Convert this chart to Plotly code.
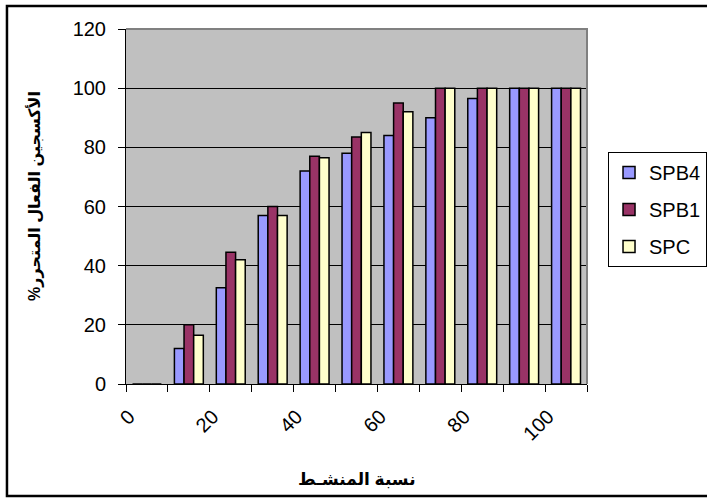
import plotly.graph_objects as go

# Activator ratio (x) and released active oxygen % for each formulation
ratio = [0, 10, 20, 30, 40, 50, 60, 70, 80, 90, 100]
spb4 = [0, 12, 32.5, 57, 72, 78, 84, 90, 96.5, 100, 100]
spb1 = [0, 20, 44.5, 60, 77, 83.5, 95, 100, 100, 100, 100]
spc = [0, 16.5, 42, 57, 76.5, 85, 92, 100, 100, 100, 100]

x_labels = [0, 20, 40, 60, 80, 100]
y_ticks = [0, 20, 40, 60, 80, 100, 120]

series = [
    ("SPB4", spb4, "#9999FF"),
    ("SPB1", spb1, "#993366"),
    ("SPC", spc, "#FFFFCC"),
]

FONT = "Liberation Sans, Arial, DejaVu Sans, sans-serif"

fig = go.Figure()
for name, vals, color in series:
    fig.add_trace(go.Bar(
        x=ratio, y=vals, name=name, legendgroup=name,
        marker=dict(color=color, line=dict(color="black", width=1.5)),
    ))

fig.update_layout(
    width=707, height=498,
    margin=dict(l=126, r=120, t=29, b=114, autoexpand=False),
    paper_bgcolor="white",
    plot_bgcolor="#C0C0C0",
    barmode="group",
    bargap=0.31,
    bargroupgap=0,
    font=dict(family=FONT, size=19, color="black"),
    showlegend=True,
    legend=dict(
        x=1.0456, y=0.6535, xanchor="left", yanchor="top",
        bgcolor="white", bordercolor="black", borderwidth=1,
        traceorder="grouped", tracegroupgap=8,
        font=dict(size=20),
        itemwidth=30,
    ),
    xaxis=dict(
        range=[-5, 105],
        tickmode="array", tickvals=x_labels,
        ticktext=[str(v) for v in x_labels],
        tickangle=-45, ticks="",
        ticklabelshift=-18, ticklabelstandoff=12,
        showgrid=False, zeroline=False,
        showline=True, linecolor="black", linewidth=1,
        minor=dict(tickvals=[v - 5 for v in ratio] + [105],
                   ticks="outside", ticklen=7, tickcolor="black",
                   showgrid=False),
        tickfont=dict(size=20),
    ),
    yaxis=dict(
        range=[0, 120],
        tickmode="array", tickvals=y_ticks,
        ticks="outside", ticklen=7, tickcolor="black",
        ticklabelstandoff=8,
        showgrid=True, gridcolor="black", gridwidth=1,
        zeroline=False,
        showline=True, linecolor="black", linewidth=1,
        tickfont=dict(size=20),
    ),
    shapes=[
        # grey frame on top and right of the plot area
        dict(type="path", xref="paper", yref="paper",
             path="M 0,1 L 1,1 L 1,0", line=dict(color="#808080", width=2),
             layer="above"),
        # outer chart frame
        dict(type="rect", xref="paper", yref="paper",
             x0=-0.2582, x1=1.35, y0=-0.3155, y1=1.0648,
             line=dict(color="black", width=2.5), layer="above"),
    ],
    annotations=[
        dict(text="<b>%الأكسجين الفعال المتحرر</b>", xref="paper", yref="paper",
             x=-0.1974, y=0.5296, xanchor="center", yanchor="middle",
             textangle=-90, showarrow=False,
             font=dict(size=16, family=FONT)),
        dict(text="<b>نسبة المنشـط</b>", xref="paper", yref="paper",
             x=0.5, y=-0.2704, xanchor="center", yanchor="middle",
             showarrow=False,
             font=dict(size=17, family=FONT)),
    ],
)

fig.write_html("out.html")
